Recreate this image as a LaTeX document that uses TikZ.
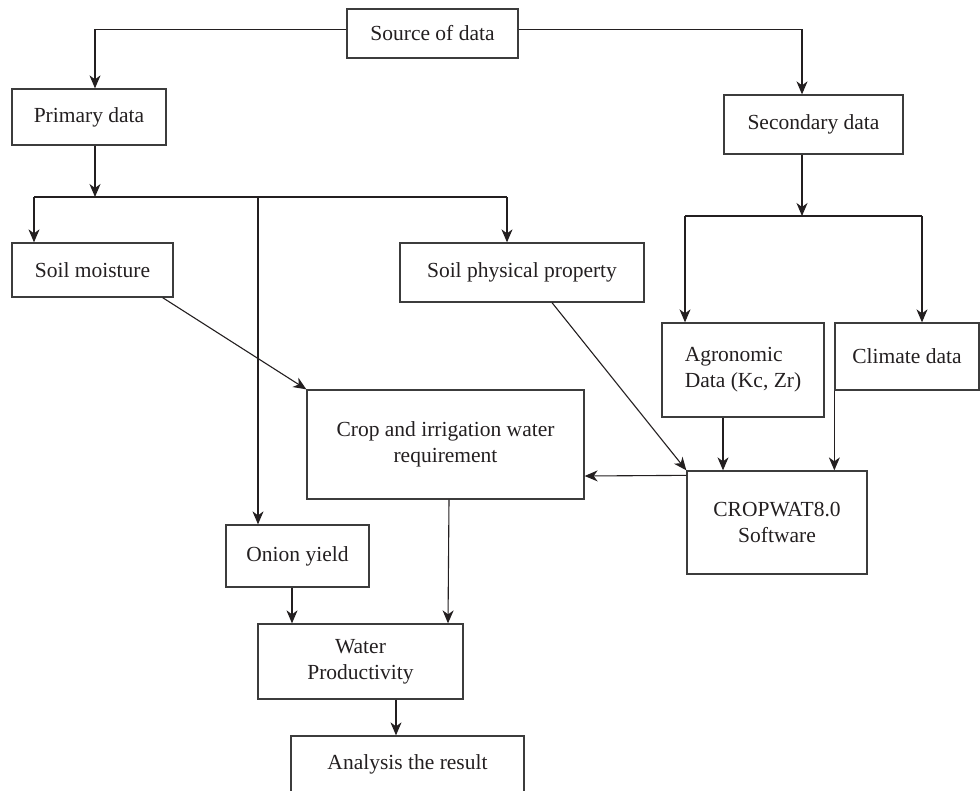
\documentclass[tikz,border=0pt]{standalone}
\usepackage{fontspec}
\setmainfont{Liberation Serif}
\usetikzlibrary{arrows.meta}
\definecolor{ink}{HTML}{231F20}
\definecolor{edge}{HTML}{3C3C3C}
\begin{document}
\begin{tikzpicture}[x=1pt,y=-1pt,
  font=\fontsize{21.5}{26}\selectfont,
  box/.style={draw=edge, line width=1.3pt, text=ink, inner sep=0pt, align=center},
  arr/.style={draw=ink, line width=1.1pt, -{Stealth[length=13pt,width=11pt,inset=4pt]}},
  ln/.style={draw=ink, line width=1.1pt}]
\useasboundingbox (0,0) rectangle (980,790);
\clip (0,0) rectangle (980,790);
% nodes
\node[box, minimum width=171pt, minimum height=49pt] (src) at (432.5,33.5) {Source of data};
\node[box, minimum width=154pt, minimum height=56pt] (prim) at (89,117) {Primary data};
\node[box, minimum width=179pt, minimum height=59pt] (sec) at (813.5,124.5) {Secondary data};
\node[box, minimum width=161pt, minimum height=54pt] (soilm) at (92.5,270) {Soil moisture};
\node[box, minimum width=244pt, minimum height=59pt] (soilp) at (522,272.5) {Soil physical property};
\node[box, minimum width=162pt, minimum height=94pt, align=left] (agro) at (743,370) {Agronomic\\Data (Kc, Zr)};
\node[box, minimum width=144pt, minimum height=67pt] (clim) at (907,356.5) {Climate data};
\node[box, minimum width=277pt, minimum height=109pt] (crop) at (445.5,444.5) {Crop and irrigation water\\requirement};
\node[box, minimum width=180pt, minimum height=103pt] (cw) at (777,522.5) {CROPWAT8.0\\Software};
\node[box, minimum width=143pt, minimum height=62pt] (onion) at (297.5,556) {Onion yield};
\node[box, minimum width=205pt, minimum height=75pt] (water) at (360.5,661.5) {Water\\Productivity};
\node[box, minimum width=233pt, minimum height=56pt] (anal) at (407.5,764) {Analysis the result};
% coordinates
\coordinate (busA) at (95,197);
\coordinate (busAL) at (34,197);
\coordinate (busAR) at (507,197);
\coordinate (busAM) at (258,197);
\coordinate (busB) at (802,216);
\coordinate (busBL) at (685,216);
\coordinate (busBR) at (922,216);
% connectors
\draw[arr] ([yshift=4.2pt]src.west) -| ([xshift=6pt]prim.north);
\draw[arr] ([yshift=4.2pt]src.east) -| ([xshift=-11.5pt]sec.north);
\draw[arr] ([xshift=6pt]prim.south) -- (busA);
\draw[ln] (busAL) -- (busAR);
\draw[arr] (busAL) -- (busAL |- soilm.north);
\draw[arr] (busAR) -- (busAR |- soilp.north);
\draw[arr] (busAM) -- (busAM |- onion.north);
\draw[arr] ([xshift=-11.5pt]sec.south) -- (busB);
\draw[ln] (busBL) -- (busBR);
\draw[arr] (busBL) -- (busBL |- agro.north);
\draw[arr] (busBR) -- (busBR |- clim.north);
\draw[arr] ([xshift=-11pt]soilm.south east) -- (crop.north west);
\draw[arr] ([xshift=30pt]soilp.south) -- (cw.north west);
\draw[arr] ([xshift=-20pt]agro.south) -- ([xshift=-20pt]agro.south |- cw.north);
\draw[arr] (clim.south west) -- (clim.south west |- cw.north);
\draw[arr] ([yshift=-5pt]cw.north west) -- (crop.east |- 0,476);
\draw[arr] ([xshift=3.5pt]crop.south) -- ([xshift=87.5pt]water.north);
\draw[arr] ([xshift=-5.5pt]onion.south) -- ([xshift=-5.5pt]onion.south |- water.north);
\draw[arr] ([xshift=35.5pt]water.south) -- ([xshift=35.5pt]water.south |- anal.north);
\end{tikzpicture}
\end{document}
